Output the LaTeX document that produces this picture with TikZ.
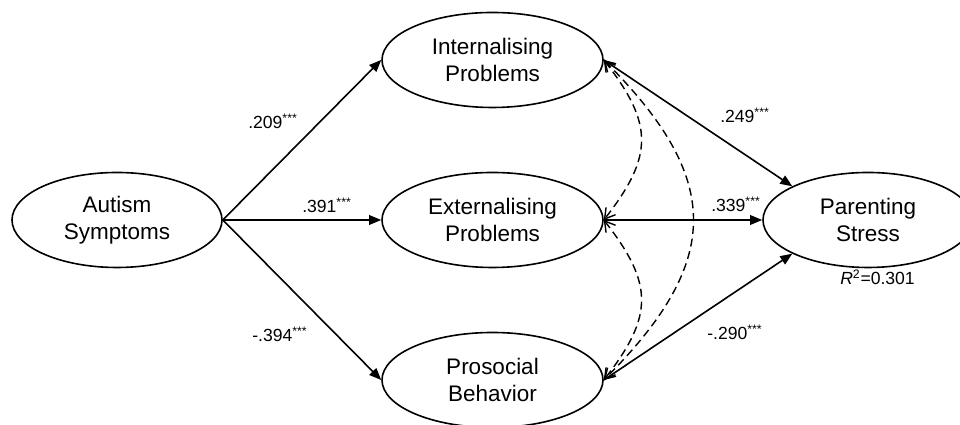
\documentclass[tikz,border=0pt]{standalone}
\usepackage{fontspec}
\setmainfont{Liberation Sans}
\usetikzlibrary{arrows.meta,shapes.geometric}

\begin{document}
\begin{tikzpicture}[x=0.25mm,y=0.25mm,line join=round,
  latent/.style={draw,ellipse,line width=0.4mm,inner sep=0pt,
    minimum width=55.25mm,minimum height=23.75mm,align=center,
    font=\fontsize{16}{19.2}\selectfont},
  effect/.style={line width=0.4mm,-{Triangle[length=3mm,width=2.4mm]}},
  cov/.style={line width=0.35mm,dash pattern=on 2mm off 1.2mm,
    {Straight Barb[length=2.5mm,width=3mm]}-{Straight Barb[length=2.5mm,width=3mm]}},
  coef/.style={anchor=base west,inner sep=0pt,font=\fontsize{12.5}{15}\selectfont}]
  % Frame of the original figure (pixels, y measured upwards).
  \useasboundingbox (0,0) rectangle (960,425);

  % Latent variables.
  \node[latent,minimum width=52.5mm] (aut) at (117,205) {Autism\\Symptoms};
  \node[latent] (int) at (492.5,365) {Internalising\\Problems};
  \node[latent] (ext) at (492.5,205) {Externalising\\Problems};
  \node[latent] (pro) at (492.5,45) {Prosocial\\Behavior};
  \node[latent,minimum width=52.5mm] (ps) at (868,205) {Parenting\\Stress};

  % Paths from the predictor to the mediators.
  \draw[effect] (aut.east) -- (int.west);
  \draw[effect] (aut.east) -- (ext.west);
  \draw[effect] (aut.east) -- (pro.west);

  % Paths from the mediators to the outcome.
  \draw[effect] (int.east) -- (ps.156);
  \draw[effect] (ext.east) -- (ps.west);
  \draw[effect] (pro.east) -- (ps.204);

  % Residual covariances between the mediators.
  \draw[cov] (int.east) to[out=-52,in=52,looseness=1.3] (ext.east);
  \draw[cov] (ext.east) to[out=-52,in=52,looseness=1.3] (pro.east);
  \draw[cov] (int.east) to[out=-45,in=45,looseness=1.35] (pro.east);

  % Coefficients.
  \node[coef] (c1) at (248,296) {.209\textsuperscript{***}};
  \node[coef] (c2) at (302,212) {.391\textsuperscript{***}};
  \node[coef] (c3) at (252,83) {-.394\textsuperscript{***}};
  \node[coef] (c4) at (720,302) {.249\textsuperscript{***}};
  \node[coef] (c5) at (711,213) {.339\textsuperscript{***}};
  \node[coef] (c6) at (707,85) {-.290\textsuperscript{***}};
  \node[coef] (rsq) at (840,140) {\textit{R}\textsuperscript{2}=0.301};
\end{tikzpicture}
\end{document}
